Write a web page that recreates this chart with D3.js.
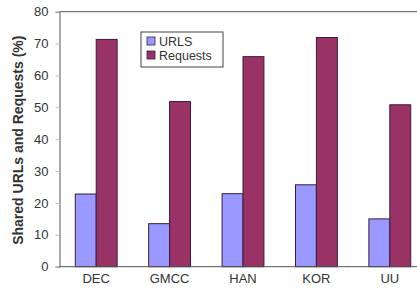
<!DOCTYPE html>
<html>
<head>
<meta charset="utf-8">
<script src="https://cdn.jsdelivr.net/npm/d3@7"></script>
<style>
html,body{margin:0;padding:0;background:#fff;}
svg{display:block;font-family:"Liberation Sans",Arial,sans-serif;}
</style>
</head>
<body>
<svg id="c" width="417" height="289"></svg>
<script>
const categories = ["DEC", "GMCC", "HAN", "KOR", "UU"];
const seriesNames = ["URLS", "Requests"];
const urls = [22.8, 13.5, 22.9, 25.7, 15.0];
const requests = [71.3, 51.8, 65.9, 71.9, 50.8];
const yTicks = [0, 10, 20, 30, 40, 50, 60, 70, 80];
const colors = ["#9999FF", "#993366"];

const svg = d3.select("#c");
const L = 59.5, R = 426.5, T = 11.7, B = 266.7;

const x = d3.scaleBand().domain(categories).range([L, R]).paddingInner(0.43).paddingOuter(0.215);
const xs = d3.scaleBand().domain(seriesNames).range([0, x.bandwidth()]);
const y = d3.scaleLinear().domain([0, 80]).range([B, T]);

const data = categories.map((c, i) => ({cat: c, vals: [urls[i], requests[i]]}));

// bars
const g = svg.append("g");
data.forEach(d => {
  d.vals.forEach((v, j) => {
    g.append("rect")
      .attr("x", x(d.cat) + xs(seriesNames[j]))
      .attr("y", y(v))
      .attr("width", xs.bandwidth())
      .attr("height", y(0) - y(v))
      .attr("fill", colors[j])
      .attr("stroke", "#3a1a40")
      .attr("stroke-width", 1);
  });
});

// frame lines
svg.append("line").attr("x1", L).attr("x2", 417).attr("y1", T).attr("y2", T).attr("stroke", "#555").attr("stroke-width", 1);
svg.append("line").attr("x1", L).attr("x2", 417).attr("y1", B).attr("y2", B).attr("stroke", "#555").attr("stroke-width", 1);

// y axis
const yAxis = d3.axisLeft(y).tickValues(yTicks).tickSize(4).tickPadding(7).tickFormat(d3.format("d"));
const ya = svg.append("g").attr("transform", `translate(${L},0)`).call(yAxis);
ya.select(".domain").attr("stroke", "#555");
ya.selectAll(".tick line").attr("stroke", "#bbb");
ya.selectAll("text").attr("font-size", 13).attr("fill", "#333").attr("font-family", "Liberation Sans, Arial, sans-serif");

// x axis labels
const xAxis = d3.axisBottom(x).tickSize(0).tickPadding(7);
const xa = svg.append("g").attr("transform", `translate(0,${B})`).call(xAxis);
xa.select(".domain").remove();
xa.selectAll("text").attr("font-size", 13).attr("fill", "#333").attr("font-family", "Liberation Sans, Arial, sans-serif");

// y title
svg.append("text")
  .attr("transform", `translate(23,${(T + B) / 2 + 1}) rotate(-90)`)
  .attr("text-anchor", "middle")
  .attr("font-size", 14)
  .attr("font-weight", "bold")
  .attr("fill", "#333")
  .text("Shared URLs and Requests (%)");

// legend
const lg = svg.append("g").attr("transform", "translate(141,32)");
lg.append("rect").attr("width", 82).attr("height", 35).attr("fill", "#fff").attr("stroke", "#444").attr("stroke-width", 1);
seriesNames.forEach((n, i) => {
  lg.append("rect").attr("x", 6).attr("y", 5 + i * 14).attr("width", 8).attr("height", 8)
    .attr("fill", colors[i]).attr("stroke", "#3a1a40").attr("stroke-width", 0.8);
  lg.append("text").attr("x", 18).attr("y", 14 + i * 14).attr("font-size", 12.5).attr("fill", "#333").text(n);
});
</script>
</body>
</html>
